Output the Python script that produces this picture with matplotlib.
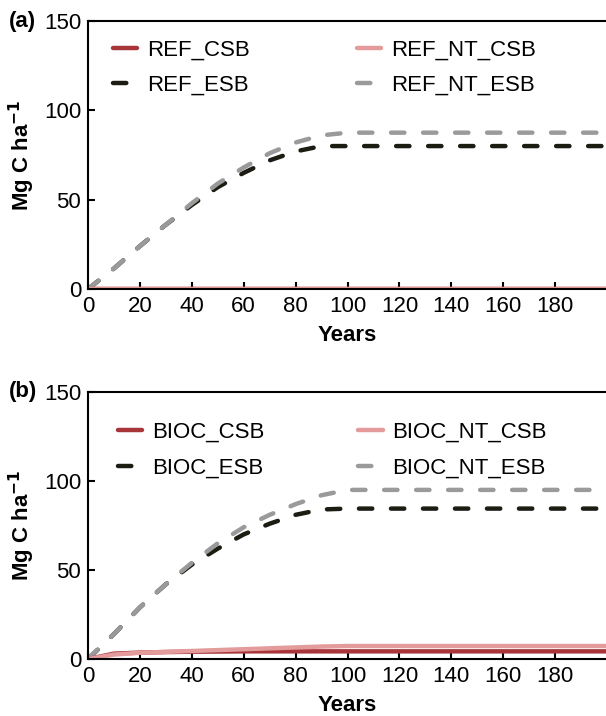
import numpy as np
import matplotlib
matplotlib.use("Agg")
import matplotlib.pyplot as plt

plt.rcParams['font.family'] = ['Liberation Sans', 'DejaVu Sans']

# years on the x axis
years = [0, 10, 20, 30, 40, 50, 60, 70, 80, 90, 100, 110, 120, 130, 140, 150, 160, 170, 180, 190, 200]

# (a) REF scenarios, Mg C ha-1
ref_csb = [0] * 21
ref_nt_csb = [0] * 21
ref_esb = [0, 11.5, 24, 36, 47, 57, 65, 72, 77, 80, 80, 80, 80, 80, 80, 80, 80, 80, 80, 80, 80]
ref_nt_esb = [0, 11.5, 24, 36, 48, 59, 68, 76, 82, 86, 87.5, 87.5, 87.5, 87.5, 87.5, 87.5, 87.5, 87.5, 87.5, 87.5, 87.5]

# (b) BIOC scenarios
bioc_csb = [0, 3, 3.6, 3.9, 4.1, 4.2, 4.3, 4.3, 4.3, 4.3, 4.3, 4.3, 4.3, 4.3, 4.3, 4.3, 4.3, 4.3, 4.3, 4.3, 4.3]
bioc_nt_csb = [0, 2.5, 3.5, 4, 4.5, 5, 5.5, 6, 6.5, 7, 7.3, 7.3, 7.3, 7.3, 7.3, 7.3, 7.3, 7.3, 7.3, 7.3, 7.3]
bioc_esb = [0, 14, 29, 42, 53, 62, 70, 76, 81, 84, 84.5, 84.5, 84.5, 84.5, 84.5, 84.5, 84.5, 84.5, 84.5, 84.5, 84.5]
bioc_nt_esb = [0, 14, 29, 42, 54, 65, 74, 81, 87, 92, 95, 95, 95, 95, 95, 95, 95, 95, 95, 95, 95]

x_ticks = [0, 20, 40, 60, 80, 100, 120, 140, 160, 180]
y_ticks = [0, 50, 100, 150]

c_csb = '#a8353a'
c_nt_csb = '#e39c9b'
c_esb = '#1c1c12'
c_nt_esb = '#9a9a9a'

W, H = 606, 716
fig = plt.figure(figsize=(W / 100, H / 100), dpi=100)

def px(x0, y0, x1, y1):
    # pixel box -> figure fraction [left, bottom, width, height]
    return [x0 / W, 1 - y1 / H, (x1 - x0) / W, (y1 - y0) / H]

panels = [
    ('(a)', 'REF', ref_csb, ref_esb, ref_nt_csb, ref_nt_esb, (88, 21, 607, 289), 113, 40, 4.8, 0.6),
    ('(b)', 'BIOC', bioc_csb, bioc_esb, bioc_nt_csb, bioc_nt_esb, (88, 392, 607, 659), 118, 422, 4.2, 0.65),
]

for tag, name, csb, esb, nt_csb, nt_esb, box, lx, ly, colsp, lsp in panels:
    ax = fig.add_axes(px(*box))
    dash = dict(lw=3.2, dashes=(3, 4.2), dash_capstyle='round')
    ax.plot(years, esb, color=c_esb, label=name + '_ESB', **dash)
    ax.plot(years, nt_esb, color=c_nt_esb, label=name + '_NT_ESB', **dash)
    ax.plot(years, csb, color=c_csb, lw=3.2, label=name + '_CSB', solid_capstyle='round')
    ax.plot(years, nt_csb, color=c_nt_csb, lw=3.2, label=name + '_NT_CSB', solid_capstyle='round')

    ax.set_xlim(0, 200)
    ax.set_ylim(0, 150)
    ax.set_xticks(x_ticks)
    ax.set_yticks(y_ticks)
    ax.tick_params(direction='in', length=5, width=1.5, labelsize=16, pad=5)
    for s in ['left', 'bottom', 'top']:
        ax.spines[s].set_linewidth(1.5)
    ax.spines['right'].set_visible(False)
    ax.set_xlabel('Years', fontsize=16, fontweight='bold', labelpad=6)

    # y label and panel tag placed in figure pixels
    yc = (box[1] + box[3]) / 2
    fig.text(22 / W, 1 - yc / H, 'Mg C ha$^{\\mathbf{-1}}$', rotation=90, fontsize=16,
             fontweight='bold', ha='center', va='center')
    fig.text(9 / W, 1 - box[1] / H, tag, fontsize=16, fontweight='bold', ha='left', va='center')

    h, l = ax.get_legend_handles_labels()
    order = [2, 0, 3, 1]
    ax.legend([h[i] for i in order], [l[i] for i in order], ncol=2, loc='upper left',
              bbox_to_anchor=(lx / W, 1 - ly / H), bbox_transform=fig.transFigure,
              frameon=False, fontsize=16, handlelength=1.1, handletextpad=0.45,
              columnspacing=colsp, labelspacing=lsp, borderpad=0, borderaxespad=0)

fig.savefig('out.png', dpi=100)
